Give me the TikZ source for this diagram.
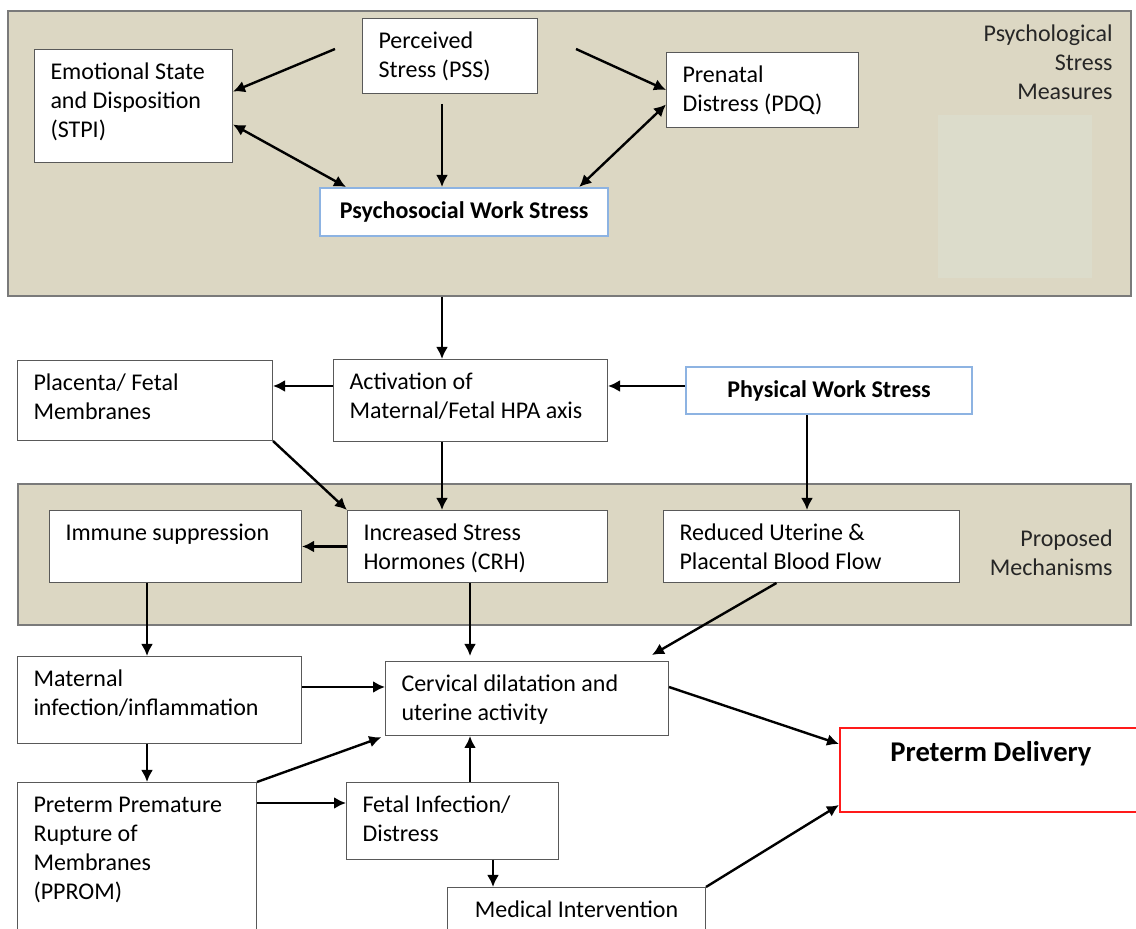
\documentclass[tikz,border=0pt]{standalone}
\usepackage{fontspec}
\setmainfont{Carlito}
\usetikzlibrary{arrows.meta}

\definecolor{bandfill}{HTML}{DCD7C3}
\definecolor{paleband}{HTML}{DCDCCB}
\definecolor{bandline}{HTML}{7A7A7A}
\definecolor{boxline}{HTML}{595959}
\definecolor{keyline}{HTML}{8DB3E2}
\definecolor{outline}{HTML}{FF1A1A}

\begin{document}
\begin{tikzpicture}[
  x = 0.5pt, y = -0.5pt,
  every node/.style = {font = \fontsize{12}{14.5}\selectfont},
  band/.style = {draw = bandline, line width = 0.8pt, fill = bandfill, anchor = north west, inner sep = 0pt},
  bandlabel/.style = {anchor = north east, align = right, inner sep = 0pt, text = black!85},
  box/.style = {draw = boxline, line width = 0.5pt, fill = white, anchor = north west, align = flush left,
                inner xsep = 8pt, inner ysep = 0pt, text height = 15pt},
  keybox/.style = {box, draw = keyline, line width = 1.1pt, font = \fontsize{12}{14.5}\selectfont\bfseries},
  arr/.style = {line width = 1.2pt, -{Latex[length = 6pt, width = 6pt]}},
  dblarr/.style = {line width = 1.2pt, {Latex[length = 6pt, width = 6pt]}-{Latex[length = 6pt, width = 6pt]}}
  ]
  \useasboundingbox (0,0) rectangle (1136,929);

  % shaded groups
  \node[band, minimum width = 561.5pt, minimum height = 142.5pt] (psyband) at (7,10) {};
  \fill[paleband] (938,115) rectangle (1092,278);
  \node[band, minimum width = 556.5pt, minimum height = 70.5pt] (mechband) at (17,483) {};
  \node[bandlabel] (psylabel) at (1113,24) {Psychological\\Stress\\Measures};
  \node[bandlabel] (mechlabel) at (1113,529) {Proposed\\Mechanisms};

  % stress measures
  \node[box, text width = 83pt, text depth = 41.5pt] (es) at (34,49) {Emotional State\\and Disposition\\(STPI)};
  \node[box, text width = 71.5pt, text depth = 22.5pt] (pss) at (362,18) {Perceived\\Stress (PSS)};
  \node[box, text width = 80pt, text depth = 22.5pt] (pdq) at (666,52) {Prenatal\\Distress (PDQ)};
  \node[keybox, minimum width = 144pt, text depth = 9pt] (pws) at (319,187) {Psychosocial Work Stress};

  % pathway
  \node[box, text width = 111.5pt, text depth = 25pt] (pfm) at (17,360) {Placenta/ Fetal\\Membranes};
  \node[box, text width = 121pt, text depth = 26pt] (hpa) at (333,359) {Activation of\\Maternal/Fetal HPA axis};
  \node[keybox, minimum width = 143pt, text depth = 8.5pt] (phy) at (685,366) {Physical Work Stress};
  \node[box, text width = 110pt, text depth = 21pt] (imm) at (49,510) {Immune suppression};
  \node[box, text width = 114pt, text depth = 21pt] (crh) at (347,510) {Increased Stress\\Hormones (CRH)};
  \node[box, text width = 132pt, text depth = 21pt] (rub) at (663,510) {Reduced Uterine \&\\Placental Blood Flow};
  \node[box, text width = 126pt, text depth = 28.5pt] (mat) at (17,656) {Maternal\\infection/inflammation};
  \node[box, text width = 125.5pt, text depth = 22pt] (cer) at (385,661) {Cervical dilatation and\\uterine activity};
  \node[box, text width = 103.5pt, text depth = 74pt] (ppr) at (17,782) {Preterm Premature\\Rupture of\\Membranes\\(PPROM)};
  \node[box, text width = 90pt, text depth = 23.5pt] (fet) at (346,782) {Fetal Infection/\\Distress};
  \node[box, minimum width = 129pt, text depth = 21.5pt] (med) at (447,887) {Medical Intervention};
  \node[box, draw = outline, line width = 1pt, minimum width = 151pt, text height = 17pt, text depth = 25pt,
        font = \fontsize{14.3}{17}\selectfont\bfseries] (ptd) at (839,727) {Preterm Delivery};

  % guide lines for straight connectors
  \coordinate (axisA) at (442,0);
  \coordinate (axisB) at (470,0);
  \coordinate (axisC) at (147,0);
  \coordinate (axisD) at (807,0);
  \coordinate (axisE) at (493,0);
  \coordinate (rowA) at (0,386);
  \coordinate (rowB) at (0,687);
  \coordinate (rowC) at (0,803);
  \coordinate (pssL) at (335,49);
  \coordinate (pssR) at (576,49);

  \draw[arr] (pssL) -- ([yshift=7.25pt]es.east);
  \draw[arr] (pssR) -- (pdq.west);
  \draw[arr, shorten <= 5pt] (axisA |- pss.south) -- (axisA |- pws.north);
  \draw[dblarr] ([yshift=-9.25pt]es.east) -- ([xshift=13.5pt]pws.north west);
  \draw[dblarr] ([yshift=-7.25pt]pdq.west) -- ([xshift=-15pt]pws.north east);
  \draw[arr] (axisA |- psyband.south) -- (axisA |- hpa.north);
  \draw[arr] (hpa.west |- rowA) -- (pfm.east |- rowA);
  \draw[arr] (phy.west |- rowA) -- (hpa.east |- rowA);
  \draw[arr] (axisA |- hpa.south) -- (axisA |- crh.north);
  \draw[arr] (pfm.south east) -- (crh.north west);
  \draw[arr] (axisD |- phy.south) -- (axisD |- rub.north);
  \draw[arr] (crh.west) -- (imm.east);
  \draw[arr] (axisC |- imm.south) -- (axisC |- mat.north);
  \draw[arr, shorten >= 2.5pt] (axisB |- crh.south) -- (axisB |- cer.north);
  \draw[arr] ([xshift=-17.5pt]rub.south) -- ([xshift=-8.5pt, yshift=3pt]cer.north east);
  \draw[arr] (mat.east |- rowB) -- (cer.west |- rowB);
  \draw[arr] (axisC |- mat.south) -- (axisC |- ppr.north);
  \draw[arr, shorten >= 2pt] (ppr.north east) -- (cer.south west);
  \draw[arr] (ppr.east |- rowC) -- (fet.west |- rowC);
  \draw[arr] (axisB |- fet.north) -- (axisB |- cer.south);
  \draw[arr] (axisE |- fet.south) -- (axisE |- med.north);
  \draw[arr] (cer.east |- rowB) -- ([yshift=13pt]ptd.west);
  \draw[arr] (med.north east) -- ([yshift=-17.5pt]ptd.west);
\end{tikzpicture}
\end{document}
